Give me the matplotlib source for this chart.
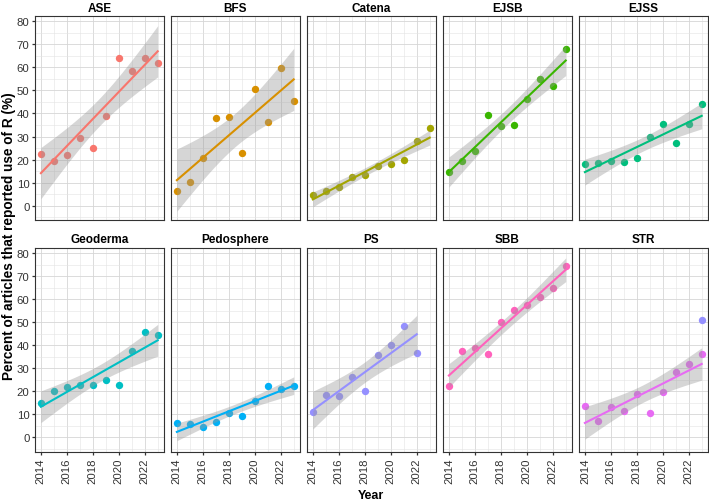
import matplotlib
matplotlib.use("Agg")
import matplotlib.pyplot as plt
from matplotlib.ticker import MultipleLocator
import numpy as np

plt.rcParams['font.family'] = ['Liberation Sans', 'DejaVu Sans']

# journals in facet order, with the ggplot hue colours
journals = ["ASE", "BFS", "Catena", "EJSB", "EJSS",
            "Geoderma", "Pedosphere", "PS", "SBB", "STR"]
colors = ["#F8766D", "#D89000", "#A3A500", "#39B600", "#00BF7D",
          "#00BFC4", "#00B0F6", "#9590FF", "#FF62BC", "#E76BF3"]

years = [2014, 2015, 2016, 2017, 2018, 2019, 2020, 2021, 2022, 2023]
years_ps = [2014, 2015, 2016, 2017, 2018, 2019, 2020, 2021, 2022]

ase = [22.5, 19.2, 22.0, 29.5, 24.8, 38.8, 64.1, 58.5, 64.1, 62.0]
bfs = [6.2, 10.3, 20.8, 38.1, 38.3, 23.0, 50.7, 36.4, 59.9, 45.6]
catena = [4.5, 6.4, 8.1, 12.3, 13.3, 17.0, 18.1, 19.8, 27.9, 33.6]
ejsb = [14.4, 19.4, 23.7, 39.4, 34.7, 34.9, 46.4, 55.0, 52.1, 67.9]
ejss = [18.2, 18.5, 19.5, 19.1, 20.6, 29.6, 35.4, 27.4, 35.4, 44.0]
geoderma = [14.7, 20.0, 21.7, 22.9, 22.6, 24.7, 22.6, 37.4, 45.9, 44.5]
pedosphere = [6.0, 5.6, 4.6, 6.6, 10.6, 9.2, 15.8, 22.3, 21.0, 22.2]
ps = [10.9, 18.3, 18.0, 26.2, 20.3, 35.8, 39.9, 48.3, 36.8]
sbb = [22.4, 37.3, 38.8, 36.3, 50.1, 55.3, 57.3, 61.0, 65.0, 74.5]
strj = [13.4, 7.2, 13.2, 11.5, 18.8, 10.4, 19.6, 28.3, 31.8, 36.3]

# stray PS-coloured point that sits in the STR panel
str_extra_year = [2023]
str_extra_val = [50.9]

xs = [years, years, years, years, years, years, years, years_ps, years, years]
ys = [ase, bfs, catena, ejsb, ejss, geoderma, pedosphere, ps, sbb, strj]

# 97.5% t quantiles for the 95% band of geom_smooth(method="lm")
T975 = {7: 2.364624, 8: 2.306004}


def lm_band(x, y):
    x = np.asarray(x, float)
    y = np.asarray(y, float)
    n = len(x)
    b, a = np.polyfit(x, y, 1)
    resid = y - (a + b * x)
    s = np.sqrt(np.sum(resid ** 2) / (n - 2))
    sxx = np.sum((x - x.mean()) ** 2)
    xg = np.linspace(x.min(), x.max(), 80)
    fit = a + b * xg
    se = s * np.sqrt(1.0 / n + (xg - x.mean()) ** 2 / sxx)
    t = T975[n - 2]
    return xg, fit, fit - t * se, fit + t * se


fig, axes = plt.subplots(2, 5, figsize=(7.09, 5.02), dpi=100, sharex=True, sharey=True)
fig.subplots_adjust(left=0.0494, right=0.998, top=0.9655, bottom=0.098,
                    wspace=0.058, hspace=0.137)

for i, ax in enumerate(axes.flat):
    x, y, c = xs[i], ys[i], colors[i]
    ax.plot(x, y, 'o', color=c, ms=5.3, mec='none', zorder=3)
    if journals[i] == "STR":
        ax.plot(str_extra_year, str_extra_val, 'o', color=colors[7], ms=5.3, mec='none', zorder=3)
    xg, fit, lo, hi = lm_band(x, y)
    ax.fill_between(xg, lo, hi, color='#999999', alpha=0.4, lw=0, zorder=4)
    ax.plot(xg, fit, color=c, lw=1.5, zorder=5)

    ax.set_title(journals[i], fontsize=8.5, fontweight='bold', pad=4)
    ax.set_xlim(2013.55, 2023.45)
    ax.set_ylim(-6.3, 82.2)
    ax.xaxis.set_major_locator(MultipleLocator(2))
    ax.xaxis.set_minor_locator(MultipleLocator(1))
    ax.yaxis.set_major_locator(MultipleLocator(10))
    ax.yaxis.set_minor_locator(MultipleLocator(5))
    ax.grid(which='major', color='#d6d6d6', lw=0.6)
    ax.grid(which='minor', color='#e4e4e4', lw=0.4)
    ax.set_axisbelow(True)
    for sp in ax.spines.values():
        sp.set_color('#333333')
        sp.set_linewidth(0.8)
    ax.tick_params(which='minor', length=0)
    ax.tick_params(which='major', length=2.5, width=0.9, color='#333333',
                   labelsize=8.2, labelcolor='#333333', pad=1.5)
    ax.tick_params(axis='x', labelrotation=90)
    if i % 5 != 0:
        ax.tick_params(axis='y', length=0)
    if i < 5:
        ax.tick_params(axis='x', length=0)

fig.text(0.012, 0.53, "Percent of articles that reported use of R (%)", rotation=90,
         ha='center', va='center', fontsize=9.8, fontweight='bold')
fig.text(0.523, 0.012, "Year", ha='center', va='center', fontsize=9, fontweight='bold')

fig.savefig("out.png", dpi=100)
